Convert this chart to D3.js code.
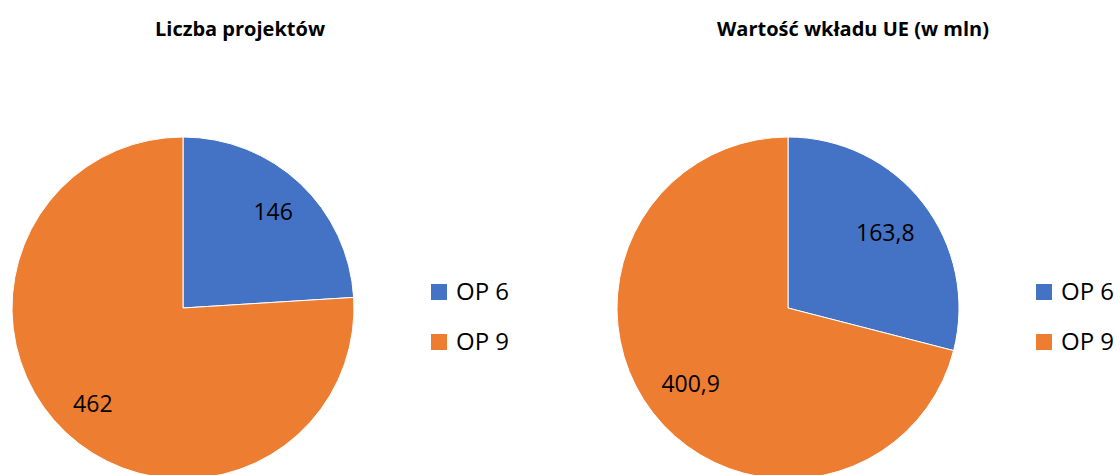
<!DOCTYPE html>
<html lang="pl">
<head>
<meta charset="UTF-8">
<title>OP 6 / OP 9</title>
<script src="https://cdn.jsdelivr.net/npm/d3@7"></script>
<style>
  body { margin: 0; background: #fff; }
  svg { display: block; font-family: "Open Sans", sans-serif; }
</style>
</head>
<body>
<script>
// data
const categories = ["OP 6", "OP 9"];
const projectCounts = [146, 462];
const euContribution = [163.8, 400.9];
const titles = ["Liczba projektów", "Wartość wkładu UE (w mln)"];

const width = 1120, height = 475;

const svg = d3.select("body").append("svg")
    .attr("width", width)
    .attr("height", height);

const color = d3.scaleOrdinal()
    .domain(categories)
    .range(["#4472C4", "#ED7D31"]);

// polish number format, comma as decimal point
const pl = d3.formatLocale({ decimal: ",", thousands: " ", grouping: [3], currency: ["", " zł"] });
const fmt = v => Number.isInteger(v) ? pl.format("d")(v) : pl.format(".1f")(v);

const radius = 171;
const pie = d3.pie().sort(null).value(d => d.value);
const arc = d3.arc().innerRadius(0).outerRadius(radius);

const panels = [
    { values: projectCounts, cx: 183, cy: 308, titleX: 240, legendX: 431, labelR: 0.77 },
    { values: euContribution, cx: 788, cy: 308, titleX: 853, legendX: 1036, labelR: 0.72 }
];

panels.forEach((p, i) => {
    const data = categories.map((c, k) => ({ name: c, value: p.values[k] }));
    const labelArc = d3.arc().innerRadius(radius * p.labelR).outerRadius(radius * p.labelR);

    svg.append("text")
        .attr("x", p.titleX)
        .attr("y", 36)
        .attr("text-anchor", "middle")
        .attr("font-weight", "bold")
        .attr("font-size", 20)
        .text(titles[i]);

    const g = svg.append("g").attr("transform", `translate(${p.cx},${p.cy})`);

    g.selectAll("path")
        .data(pie(data))
        .join("path")
        .attr("d", arc)
        .attr("fill", d => color(d.data.name))
        .attr("stroke", "#fff")
        .attr("stroke-width", 1);

    g.selectAll("text")
        .data(pie(data))
        .join("text")
        .attr("transform", d => `translate(${labelArc.centroid(d)})`)
        .attr("text-anchor", "middle")
        .attr("dy", "0.35em")
        .attr("font-size", 23)
        .attr("fill", "#000")
        .text(d => fmt(d.data.value));

    // legend
    const leg = svg.append("g")
        .attr("transform", `translate(${p.legendX},284)`)
        .selectAll("g")
        .data(categories)
        .join("g")
        .attr("transform", (d, k) => `translate(0,${k * 50})`);

    leg.append("rect")
        .attr("width", 16)
        .attr("height", 16)
        .attr("fill", d => color(d));

    leg.append("text")
        .attr("x", 25)
        .attr("y", 8)
        .attr("dy", "0.35em")
        .attr("font-size", 24)
        .attr("fill", "#000")
        .text(d => d);
});
</script>
</body>
</html>
